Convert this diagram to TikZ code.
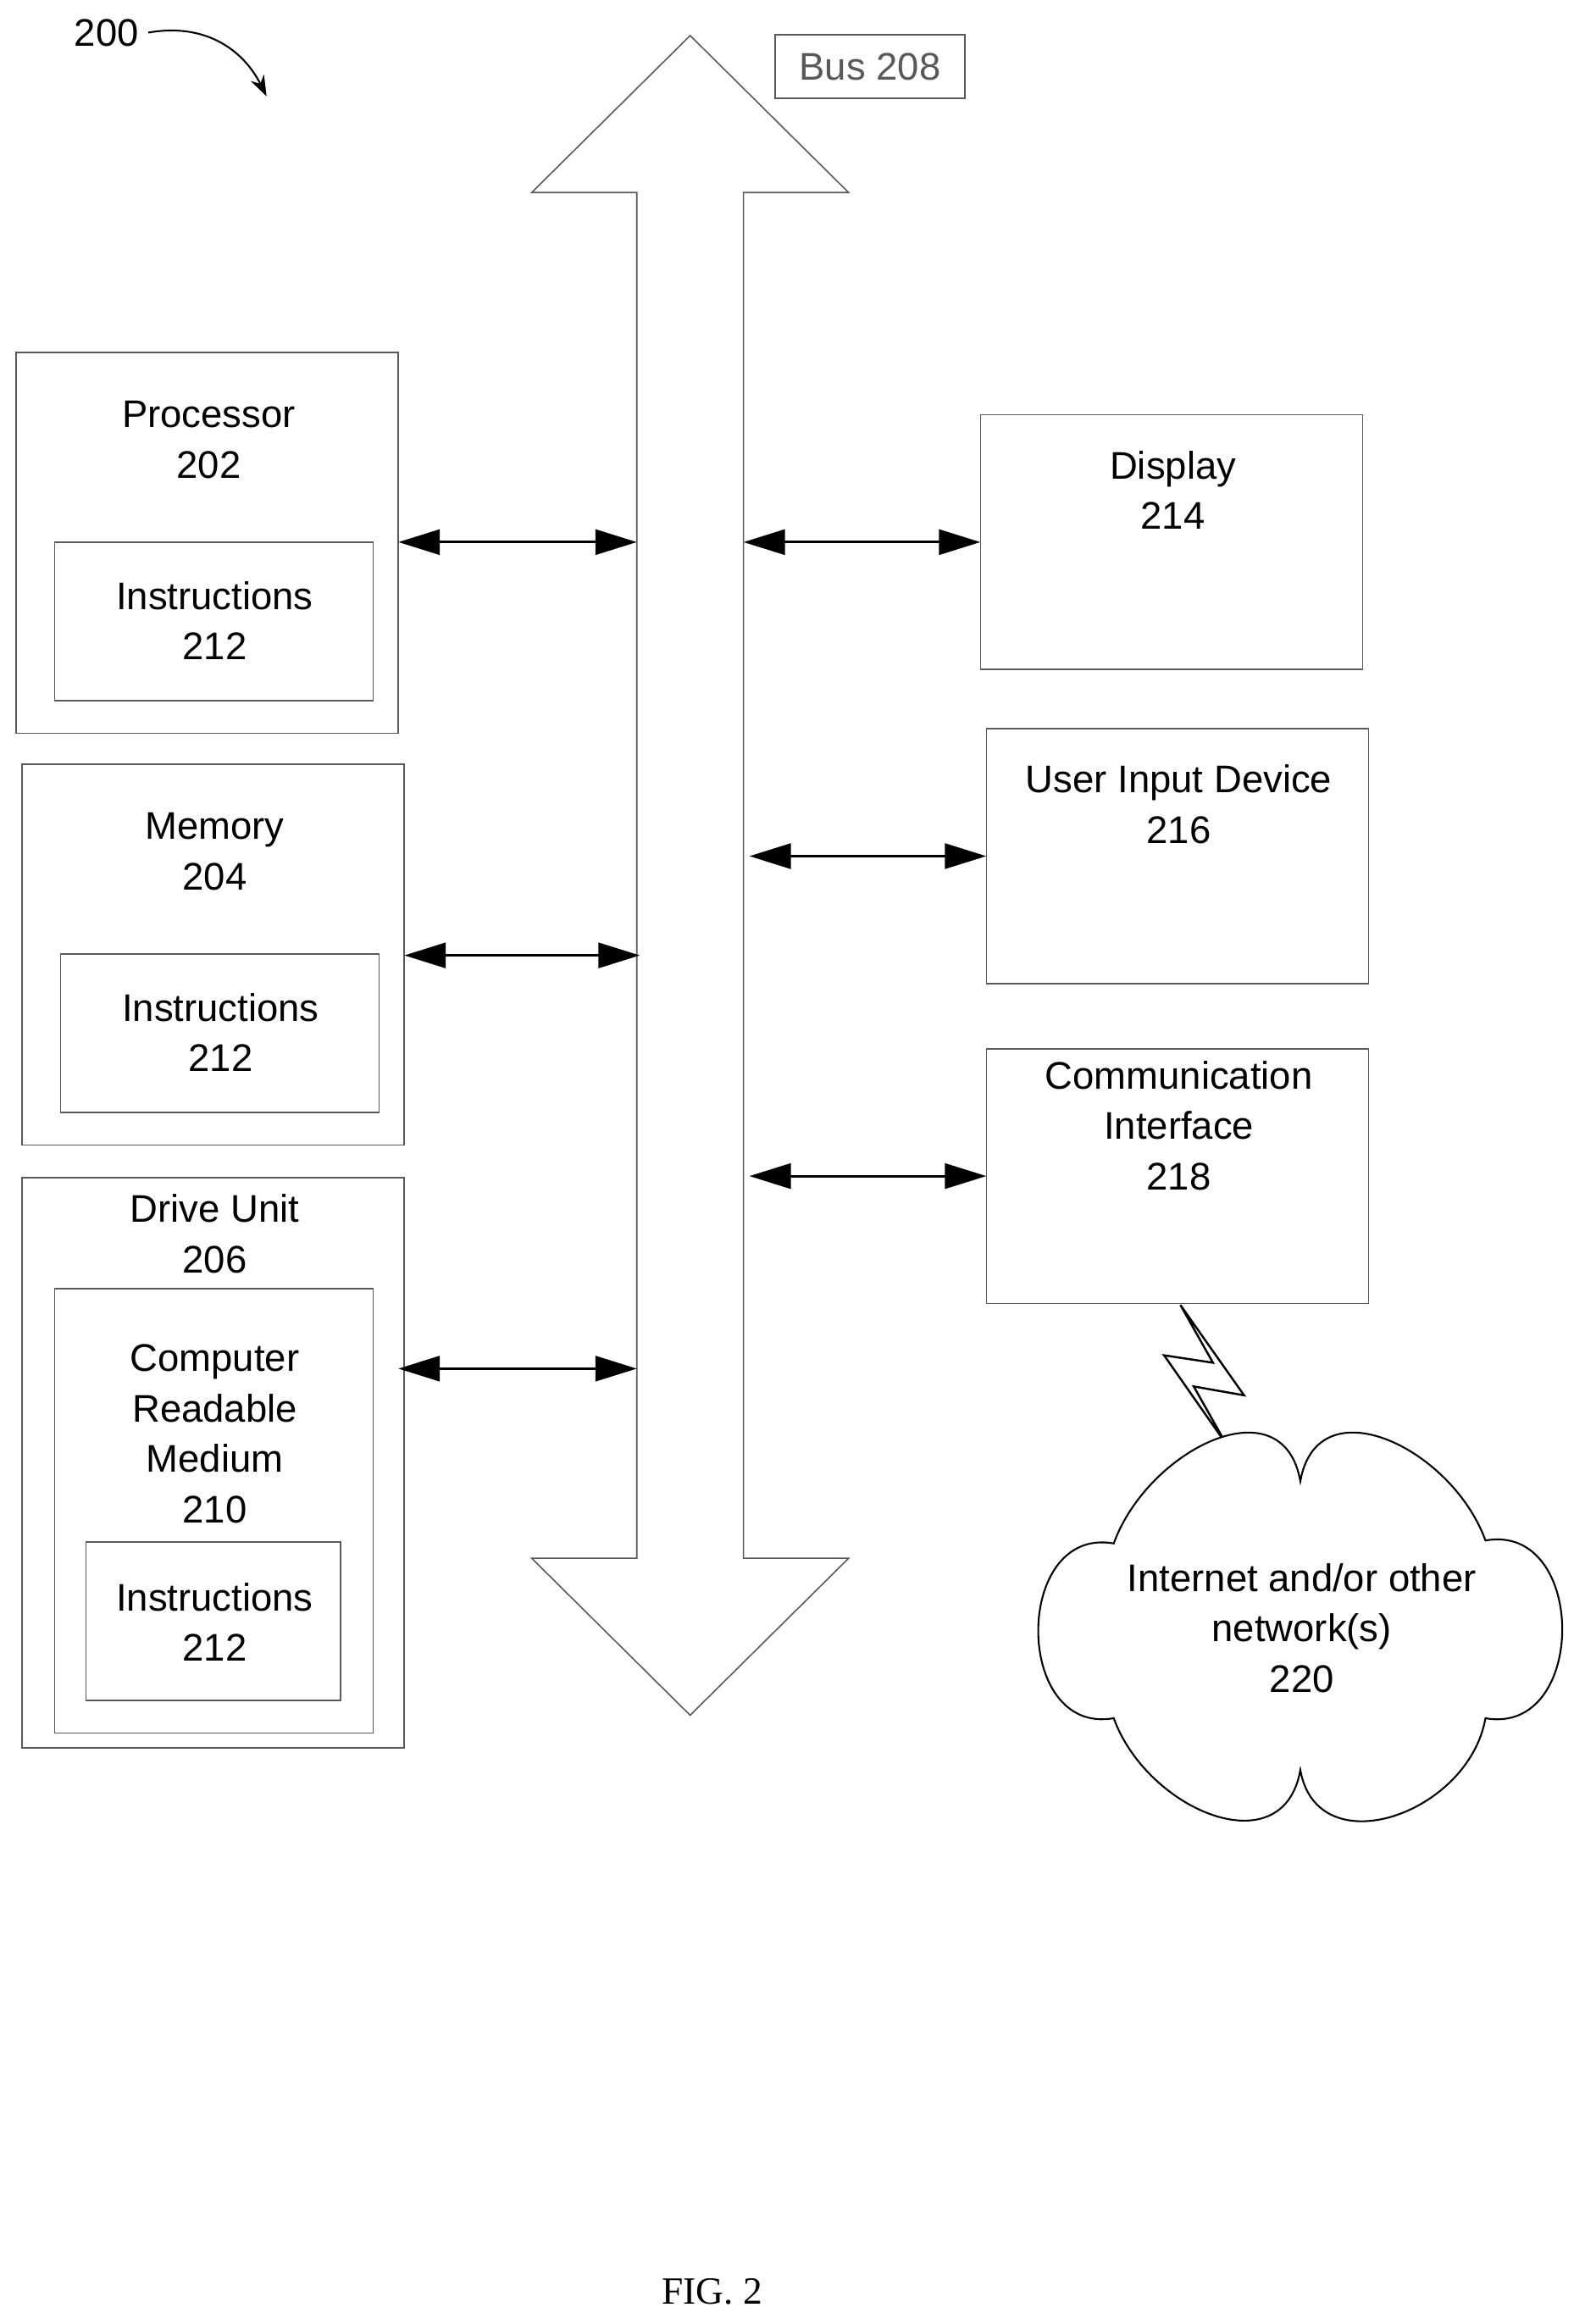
\documentclass[tikz,border=0pt]{standalone}
\usepackage{fontspec}
\setmainfont{Liberation Sans}
\newfontfamily\timesf{Liberation Serif}
\usetikzlibrary{arrows.meta}
\begin{document}
\begin{tikzpicture}[x=1pt,y=-1pt,line width=0.9pt,
  box/.style={draw,gray!70!black},
  lbl/.style={align=center,font=\fontsize{26}{34}\selectfont,inner sep=0},
  dbl/.style={{Triangle[length=28pt,width=17pt]}-{Triangle[length=28pt,width=17pt]},line width=1.8pt}]
\useasboundingbox (0,0) rectangle (1070,1569);
% 200
\node[lbl] (n200) at (72,22) {200};
\coordinate (c200) at (180,65);
\draw[-{Stealth[length=14pt,width=10pt]},line width=1.2pt] (n200.east)+(6,0) .. controls (140,15) and (165,35) .. (c200);
% bus
\draw[box,fill=white] (466,24) -- (359,130) -- (430,130) -- (430,1052) -- (359,1052) -- (466,1158) -- (573,1052) -- (502,1052) -- (502,130) -- (573,130) -- cycle;
\node[box,lbl,minimum width=128,minimum height=43,anchor=north west] (bus) at (523,23) {Bus 208};
\coordinate (bL) at (430,0); \coordinate (bR) at (502,0);
% processor
\draw[box] (11,238) rectangle (269,495);
\node[lbl] (proc) at (141,297) {Processor\\202};
\draw[box] (37,366) rectangle (252,473);
\node[lbl] (i1) at (145,419) {Instructions\\212};
% memory
\draw[box] (15,516) rectangle (273,773);
\node[lbl] (mem) at (145,575) {Memory\\204};
\draw[box] (41,644) rectangle (256,751);
\node[lbl] (i2) at (149,697) {Instructions\\212};
% drive
\draw[box] (15,795) rectangle (273,1180);
\node[lbl] (drv) at (145,833) {Drive Unit\\206};
\draw[box] (37,870) rectangle (252,1170);
\node[lbl] (crm) at (145,968) {Computer\\Readable\\Medium\\210};
\draw[box] (58,1041) rectangle (230,1148);
\node[lbl] (i3) at (145,1095) {Instructions\\212};
% right boxes
\draw[box] (662,280) rectangle (920,452);
\node[lbl] (disp) at (792,331) {Display\\214};
\draw[box] (666,492) rectangle (924,664);
\node[lbl] (uid) at (796,543) {User Input Device\\216};
\draw[box] (666,708) rectangle (924,880);
\node[lbl] (comm) at (796,760) {Communication\\Interface\\218};
% arrows
\coordinate (a1) at (269,366); \coordinate (a1b) at (430,366);
\coordinate (a2) at (273,645); \coordinate (a2b) at (432,645);
\coordinate (a3) at (269,924); \coordinate (a3b) at (430,924);
\coordinate (a4) at (502,366); \coordinate (a4b) at (662,366);
\coordinate (a5) at (506,578); \coordinate (a5b) at (666,578);
\coordinate (a6) at (506,794); \coordinate (a6b) at (666,794);
\draw[dbl] (a1) -- (a1b);
\draw[dbl] (a2) -- (a2b);
\draw[dbl] (a3) -- (a3b);
\draw[dbl] (a4) -- (a4b);
\draw[dbl] (a5) -- (a5b);
\draw[dbl] (a6) -- (a6b);
% lightning
\draw[line width=1.4pt,line join=miter] (797,881) -- (840,942) -- (806,936) -- (828,975) -- (786,915) -- (819,920) -- cycle;
% cloud
\draw[line width=1.2pt,fill=white] (752,1042) to[out=70,in=100,looseness=1.3] (878,1000)
  to[out=80,in=110,looseness=1.3] (1003,1040)
  to[out=10,in=-10,looseness=1.5] (1003,1160)
  to[out=-100,in=-80,looseness=1.3] (878,1195)
  to[out=-100,in=-70,looseness=1.3] (752,1160)
  to[out=-170,in=170,looseness=1.5] cycle;
\node[lbl] (net) at (879,1099) {Internet and/or other\\network(s)\\220};
\node[font=\timesf\fontsize{26}{30}\selectfont] (fig) at (481,1547) {FIG. 2};
\end{tikzpicture}
\end{document}
